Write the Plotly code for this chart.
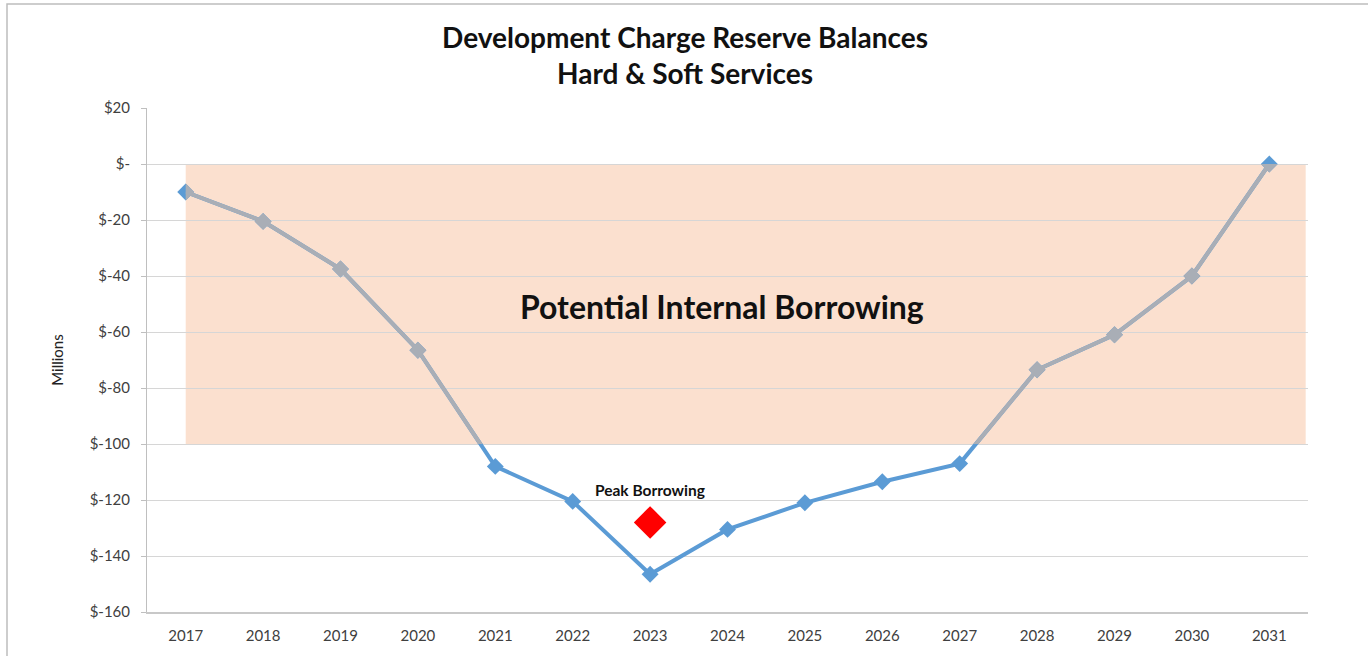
import plotly.graph_objects as go

# ---- data ----
years = list(range(2017, 2032))
balances = [-10, -20.5, -37.5, -66.5, -108, -120.5, -146.5, -130.5, -121, -113.5, -107, -73.5, -61, -40, 0]
peak_year = [2023]
peak_marker_value = [-128]
peak_label = "Peak Borrowing"
peak_label_value = -116.5
zone_label = "Potential Internal Borrowing"
zone_label_year = 2023.93
zone_label_value = -51
zone_top = 0
zone_bottom = -100
ytick_vals = [20, 0, -20, -40, -60, -80, -100, -120, -140, -160]
ytick_text = ["$20", "$-", "$-20", "$-40", "$-60", "$-80", "$-100", "$-120", "$-140", "$-160"]

W, H = 1368, 656
ML, MR, MT, MB = 147, 60, 108, 44
pw = W - ML - MR
ph = H - MT - MB
x_range = [2016.5, 2031.5]
y_range = [-160, 20]

FONT = "Lato"
BLUE = "#5B9BD5"
GRAY = "#A9AEB6"
SHADE = "#FBE0CF"

fig = go.Figure()

# full series in blue
fig.add_trace(go.Scatter(
    x=years, y=balances, mode="lines+markers",
    line=dict(color=BLUE, width=4),
    marker=dict(symbol="diamond", size=13, color=BLUE),
    xaxis="x", yaxis="y", showlegend=False, hoverinfo="x+y"))

# gray overlay clipped to the shaded zone (separate subplot domain)
x2_dom0 = (years[0] - x_range[0]) / (x_range[1] - x_range[0])
y2_dom0 = (zone_bottom - y_range[0]) / (y_range[1] - y_range[0])
y2_dom1 = (zone_top - y_range[0]) / (y_range[1] - y_range[0])
fig.add_trace(go.Scatter(
    x=years, y=balances, mode="lines+markers",
    line=dict(color=GRAY, width=4),
    marker=dict(symbol="diamond", size=13, color=GRAY),
    xaxis="x2", yaxis="y2", showlegend=False, hoverinfo="skip", cliponaxis=True))

# peak marker
fig.add_trace(go.Scatter(
    x=peak_year, y=peak_marker_value, mode="markers",
    marker=dict(symbol="diamond", size=25, color="#FF0000"),
    xaxis="x", yaxis="y", showlegend=False))

fig.update_layout(
    width=W, height=H,
    margin=dict(l=ML, r=MR, t=MT, b=MB),
    paper_bgcolor="white", plot_bgcolor="rgba(0,0,0,0)",
    font=dict(family=FONT, color="#404040", size=15),
    title=dict(text="<b>Development Charge Reserve Balances<br>Hard & Soft Services</b>",
               x=685 / W, xanchor="center", y=1 - 48 / H, yanchor="middle",
               font=dict(family=FONT, size=28, color="#111111")),
    xaxis=dict(range=x_range, tickvals=years, ticktext=[str(y) for y in years],
               showgrid=False, zeroline=False, showline=True, linecolor="#C8C8C8", linewidth=1.5,
               ticks="", ticklabelstandoff=9, tickfont=dict(size=15, color="#404040"), domain=[0, 1]),
    yaxis=dict(range=y_range, tickvals=ytick_vals, ticktext=ytick_text,
               showgrid=True, gridcolor="#D6D6D6", gridwidth=1.2, zeroline=False,
               showline=True, linecolor="#BFBFBF", linewidth=1,
               ticks="outside", ticklen=5, tickcolor="#BFBFBF", ticklabelstandoff=8,
               tickfont=dict(size=15, color="#404040"),
               title=dict(text="Millions", font=dict(size=15, color="#222222"), standoff=22),
               domain=[0, 1]),
    xaxis2=dict(range=[years[0], x_range[1]], domain=[x2_dom0, 1], anchor="y2",
                visible=False, showgrid=False, zeroline=False),
    yaxis2=dict(range=[zone_bottom, zone_top], domain=[y2_dom0, y2_dom1], anchor="x2",
                visible=False, showgrid=False, zeroline=False),
)

# shaded zone
fig.add_shape(type="rect", xref="x", yref="y", x0=years[0], x1=x_range[1] - 0.03,
              y0=zone_bottom, y1=zone_top, fillcolor=SHADE, line=dict(width=0), layer="below")

# outer border (left/top visible)
fig.add_shape(type="rect", xref="paper", yref="paper",
              x0=(7 - ML) / pw, x1=(W + 5 - ML) / pw,
              y0=-(H + 5 - MT - ph) / ph, y1=1 + (MT - 4) / ph,
              line=dict(color="#BDBDBD", width=1.5), fillcolor="rgba(0,0,0,0)", layer="above")

fig.add_annotation(x=zone_label_year, y=zone_label_value, xref="x", yref="y",
                   text="<b>" + zone_label + "</b>", showarrow=False,
                   font=dict(family=FONT, size=32, color="#111111"))
fig.add_annotation(x=peak_year[0], y=peak_label_value, xref="x", yref="y",
                   text="<b>" + peak_label + "</b>", showarrow=False,
                   font=dict(family=FONT, size=15.5, color="#111111"))

fig.write_html("out.html", config={"displayModeBar": False},
               post_script="document.body.style.margin='0';document.body.style.overflow='hidden';")
